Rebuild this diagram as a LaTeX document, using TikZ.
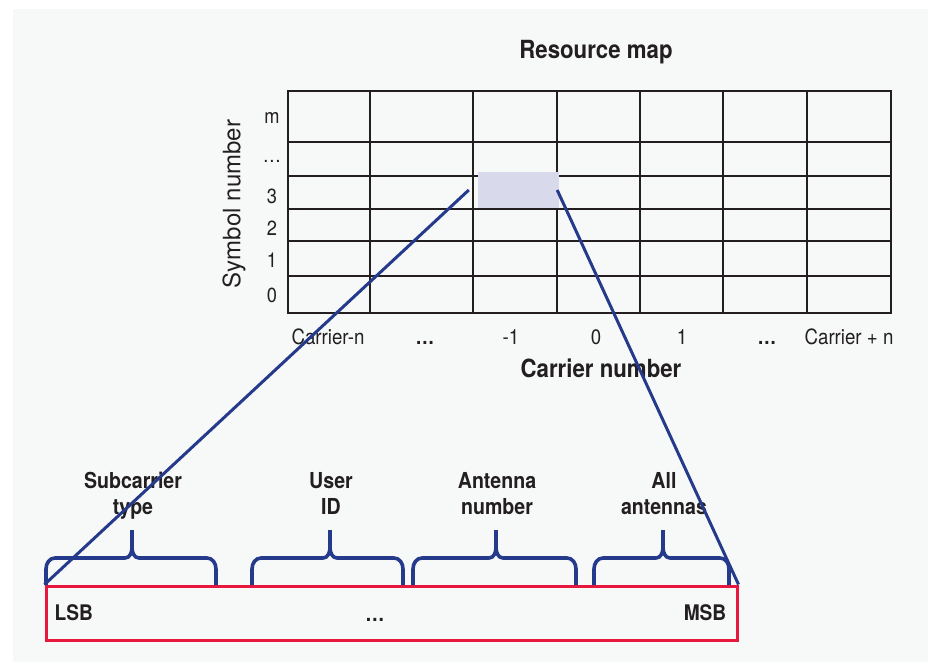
\documentclass[tikz,border=0pt]{standalone}
\usepackage{fontspec}
\setmainfont{TeX Gyre Heros}[FakeStretch=0.89]
\newfontfamily\widefont{TeX Gyre Heros}
\usetikzlibrary{positioning}
\definecolor{mapblue}{HTML}{263A8C}
\definecolor{wordred}{HTML}{E8173D}
\definecolor{cellfill}{HTML}{D8D9EA}
\definecolor{panel}{HTML}{F7F9F9}
\definecolor{ink}{HTML}{231F20}

\begin{document}
\begin{tikzpicture}[x=1pt,y=-1pt]
        \tikzstyle{lbl} = [text=ink, inner sep=0pt, anchor=base, font=\fontsize{21}{25}\selectfont]
        \tikzstyle{rowlbl} = [lbl, font=\fontsize{20.5}{24}\selectfont]
        \tikzstyle{title} = [lbl, font=\fontsize{25}{30}\selectfont\bfseries]
        \tikzstyle{field} = [lbl, align=center, font=\fontsize{22}{26}\selectfont\bfseries]
        \tikzstyle{key} = [lbl, font=\fontsize{21.5}{25}\selectfont\bfseries]
        \tikzstyle{gridline} = [line width=2pt, draw=ink, line cap=rect]
        \tikzstyle{brace} = [line width=3.6pt, draw=mapblue, line join=round]
        \tikzstyle{zoomline} = [line width=3pt, draw=mapblue]

                \useasboundingbox (0,0) rectangle (928,662);
                \fill[panel] (13,9) rectangle (928,662);

                \foreach \gx in {288,370,473,557,640,723,807,891}
                        \draw[gridline] (\gx,91) -- (\gx,313);
                \foreach \gy in {91,142,176,209,241,276,313}
                        \draw[gridline] (288,\gy) -- (891,\gy);

                \node (sel) [fill=cellfill, minimum width=81pt, minimum height=36pt, inner sep=0pt] at (518.5,190) {};

                \node (title) [title] at (596,58) {Resource map};
                \node (xaxis) [title] at (601,377) {Carrier number};
                \node (yaxis) [lbl, anchor=center, rotate=90, font=\widefont\fontsize{24}{28}\selectfont] at (234,204) {Symbol number};

                \foreach \lab/\ly in {m/123, {\ldots}/162, 3/203, 2/235, 1/267, 0/302}
                        \node (row\ly) [rowlbl] at (272,\ly) {\lab};
                \foreach \lab/\lx in {Carrier-n/328, {\bfseries\ldots}/425, -1/511, 0/596, 1/682, {\bfseries\ldots}/767, Carrier + n/849}
                        \node (col\lx) [lbl] at (\lx,344) {\lab};

                \node (word) [draw=wordred, line width=3pt, minimum width=691pt, minimum height=54pt, inner sep=0pt] at (391.5,613) {};
                \node (lsb) [key, right=10pt of word.west] {LSB};
                \node (msb) [key, left=12pt of word.east] {MSB};
                \node (gap) [key] at (375,621) {\ldots};

                \foreach \bx/\bc/\by/\bname/\btext in {46/132/216/sub/{Subcarrier\\type}, 252/330/403/user/{User\\ID}, 413/496/576/ant/{Antenna\\number}, 594/663/729/all/{All\\antennas}} {
                        \draw[brace] (\bx,585) -- (\bx,569) to[out=90,in=180] (\bx+9,558) -- (\bc-7,558) to[out=0,in=-90] (\bc,547) -- (\bc,530)
                                (\bc,530) -- (\bc,547) to[out=-90,in=180] (\bc+7,558) -- (\by-9,558) to[out=0,in=90] (\by,569) -- (\by,585);
                        \node (\bname) [field] at (\bc+1,514) {\btext};
                }

                \draw[zoomline] ([xshift=-9pt]sel.west) -- (word.north west);
                \draw[zoomline] ([xshift=-2pt]sel.east) -- (word.north east);
\end{tikzpicture}
\end{document}
